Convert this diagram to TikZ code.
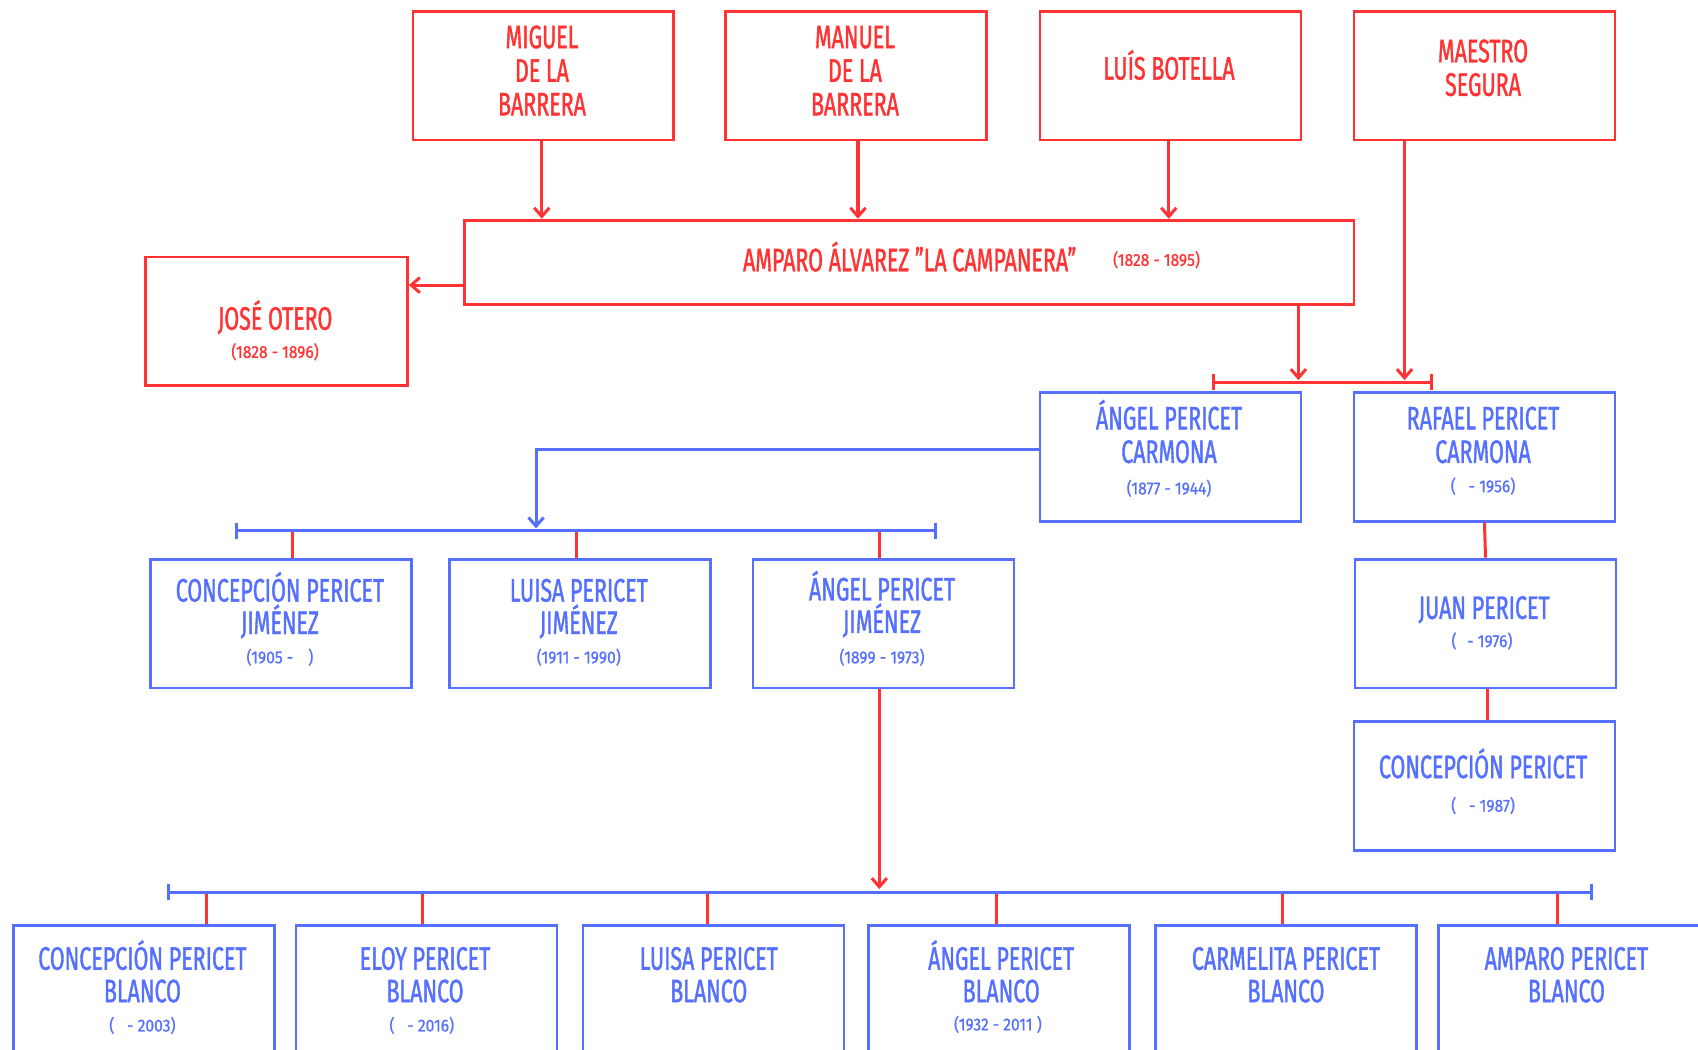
\documentclass[tikz,border=0pt]{standalone}
\usepackage{fontspec}
\setmainfont{Fira Sans}[FakeStretch=0.66,FakeBold=1.2]
\newfontfamily\datefont{Fira Sans}[FakeStretch=0.9,FakeBold=0.8]
\usetikzlibrary{arrows.meta}
\definecolor{rd}{HTML}{FF3333}
\definecolor{bl}{HTML}{5570FF}
\tikzset{
 box/.style={draw, line width=2.6pt, minimum width=241pt, minimum height=119pt, inner sep=0pt, anchor=north west},
 redbox/.style={box, draw=rd},
 bluebox/.style={box, draw=bl},
 nm/.style={anchor=base, inner sep=0pt, font=\fontsize{30}{31}\selectfont},
 dt/.style={anchor=base, inner sep=0pt, font=\datefont\fontsize{16}{17}\selectfont},
 rline/.style={draw=rd, line width=2.8pt},
 bline/.style={draw=bl, line width=2.8pt},
 arr/.style={-{Straight Barb[length=8pt,width=14pt,line width=2.8pt]}},
 brk/.style={{Bar[width=15pt,line width=2.8pt]}-{Bar[width=15pt,line width=2.8pt]}},
}
\begin{document}
\begin{tikzpicture}[x=1pt,y=-1pt]
\useasboundingbox (0,0) rectangle (1568,969);
% ---------- coordinates on brackets ----------
\coordinate (b1l) at (1119,353); \coordinate (b1r) at (1323,353);
\coordinate (j1) at (1199,351); \coordinate (j2) at (1297,351);
\coordinate (b2l) at (217,490); \coordinate (b2r) at (865,490);
\coordinate (c1) at (495,488);
\coordinate (d1) at (270,490); \coordinate (d2) at (532,490); \coordinate (d3) at (812,490);
\coordinate (b3l) at (154,824); \coordinate (b3r) at (1471,824);
\coordinate (j3) at (812,821);
\coordinate (e1) at (191,824); \coordinate (e2) at (390,824); \coordinate (e3) at (653,824);
\coordinate (e4) at (920,824); \coordinate (e5) at (1184,824); \coordinate (e6) at (1438,824);

% ---------- boxes ----------
\node[redbox] (miguel) at (380,9) {};
\node[redbox] (manuel) at (669,9) {};
\node[redbox] (luis) at (959,9) {};
\node[redbox] (maestro) at (1249,9) {};
\node[redbox, minimum width=821pt, minimum height=78pt] (amparo) at (428,202) {};
\node[redbox, minimum width=242pt] (jose) at (133,236) {};

\node[bluebox] (angelc) at (959,361) {};
\node[bluebox] (rafael) at (1249,361) {};
\node[bluebox] (juan) at (1250,515) {};
\node[bluebox] (concr) at (1249,665) {};

\node[bluebox] (conj) at (138,515) {};
\node[bluebox] (luisaj) at (414,515) {};
\node[bluebox] (angelj) at (694,515) {};

\node[bluebox] (conb) at (11,853) {};
\node[bluebox] (eloyb) at (272,853) {};
\node[bluebox] (luisab) at (537,853) {};
\node[bluebox] (angelb) at (801,853) {};
\node[bluebox] (carmb) at (1066,853) {};
\node[bluebox] (ampb) at (1327,853) {};

% ---------- connectors ----------
\draw[rline,arr] ([xshift=-1.5pt]miguel.south) -- ([xshift=-1.5pt]miguel.south |- amparo.north);
\draw[rline,arr] ([xshift=1.5pt]manuel.south) -- ([xshift=1.5pt]manuel.south |- amparo.north);
\draw[rline,arr] ([xshift=-1.5pt]luis.south) -- ([xshift=-1.5pt]luis.south |- amparo.north);
\draw[rline,arr] ([yshift=-21pt]amparo.west) -- ([yshift=-21pt]amparo.west -| jose.east);
\draw[rline,brk] (b1l) -- (b1r);
\draw[rline,arr] (j1 |- amparo.south) -- (j1);
\draw[rline,arr] (j2 |- maestro.south) -- (j2);

\draw[bline,arr] ([yshift=6.5pt]angelc.west) -| (c1);
\draw[rline] (d1) -- (d1 |- conj.north);
\draw[rline] (d2) -- (d2 |- luisaj.north);
\draw[rline] (d3) -- (d3 |- angelj.north);
\draw[bline,brk] (b2l) -- (b2r);

\draw[rline] (rafael.south) -- (juan.north);
\draw[rline] ([xshift=1.5pt]juan.south) -- ([xshift=1.5pt]juan.south |- concr.north);

\draw[rline,arr] (angelj.south -| j3) -- (j3);
\draw[rline] (e1) -- (e1 |- conb.north);
\draw[rline] (e2) -- (e2 |- eloyb.north);
\draw[rline] (e3) -- (e3 |- luisab.north);
\draw[rline] (e4) -- (e4 |- angelb.north);
\draw[rline] (e5) -- (e5 |- carmb.north);
\draw[rline] (e6) -- (e6 |- ampb.north);
\draw[bline,brk] (b3l) -- (b3r);

% ---------- texts (red) ----------
\begin{scope}[every node/.append style={text=rd}]
\node[nm] (t1) at (500.5,44.5) {MIGUEL};
\node[nm] (t2) at (500.5,75.5) {DE LA};
\node[nm] (t3) at (500.5,106.5) {BARRERA};
\node[nm] (t4) at (789.5,44.5) {MANUEL};
\node[nm] (t5) at (789.5,75.5) {DE LA};
\node[nm] (t6) at (789.5,106.5) {BARRERA};
\node[nm] (t7) at (1079.5,73.5) {LUÍS BOTELLA};
\node[nm] (t8) at (1369.5,57.5) {MAESTRO};
\node[nm] (t9) at (1369.5,88.5) {SEGURA};
\node[nm] (t10) at (840,250.5) {AMPARO ÁLVAREZ "LA CAMPANERA"};
\node[dt] (t11) at (1068,245.5) {(1828 - 1895)};
\node[nm] (t12) at (254,304.5) {JOSÉ OTERO};
\node[dt] (t13) at (254,330.5) {(1828 - 1896)};
\end{scope}

% ---------- texts (blue) ----------
\begin{scope}[every node/.append style={text=bl}]
\node[nm] (u1) at (1079.5,396.5) {ÁNGEL PERICET};
\node[nm] (u2) at (1079.5,427.5) {CARMONA};
\node[dt] (u3) at (1079.5,456.5) {(1877 - 1944)};
\node[nm] (u4) at (1369.5,396.5) {RAFAEL PERICET};
\node[nm] (u5) at (1369.5,427.5) {CARMONA};
\node[dt] (u6) at (1369.5,454.5) {(\hspace{12pt}- 1956)};
\node[nm] (u7) at (1370.5,571.5) {JUAN PERICET};
\node[dt] (u8) at (1368.5,597.5) {(\hspace{10pt}- 1976)};
\node[nm] (u9) at (1369.5,718.5) {CONCEPCIÓN PERICET};
\node[dt] (u10) at (1369.5,749.5) {(\hspace{12pt}- 1987)};

\node[nm] (v1) at (258.5,555.5) {CONCEPCIÓN PERICET};
\node[nm] (v2) at (258.5,585.5) {JIMÉNEZ};
\node[dt] (v3) at (258.5,612.5) {(1905 -\hspace{14pt})};
\node[nm] (v4) at (534.5,555.5) {LUISA PERICET};
\node[nm] (v5) at (534.5,585.5) {JIMÉNEZ};
\node[dt] (v6) at (534.5,612.5) {(1911 - 1990)};
\node[nm] (v7) at (814.5,554.5) {ÁNGEL PERICET};
\node[nm] (v8) at (814.5,584.5) {JIMÉNEZ};
\node[dt] (v9) at (814.5,612.5) {(1899 - 1973)};

\node[nm] (w1) at (131.5,895.5) {CONCEPCIÓN PERICET};
\node[nm] (w2) at (131.5,925.5) {BLANCO};
\node[dt] (w3) at (131.5,952.5) {(\hspace{12pt}- 2003)};
\node[nm] (w4) at (392.5,895.5) {ELOY PERICET};
\node[nm] (w5) at (392.5,925.5) {BLANCO};
\node[dt] (w6) at (389.5,952.5) {(\hspace{12pt}- 2016)};
\node[nm] (w7) at (654.5,895.5) {LUISA PERICET};
\node[nm] (w8) at (654.5,925.5) {BLANCO};
\node[nm] (w9) at (924.5,895.5) {ÁNGEL PERICET};
\node[nm] (w10) at (924.5,925.5) {BLANCO};
\node[dt] (w11) at (921.5,951.5) {(1932 - 2011 )};
\node[nm] (w12) at (1187.5,895.5) {CARMELITA PERICET};
\node[nm] (w13) at (1187.5,925.5) {BLANCO};
\node[nm] (w14) at (1446.5,895.5) {AMPARO PERICET};
\node[nm] (w15) at (1446.5,925.5) {BLANCO};
\end{scope}
\end{tikzpicture}
\end{document}
